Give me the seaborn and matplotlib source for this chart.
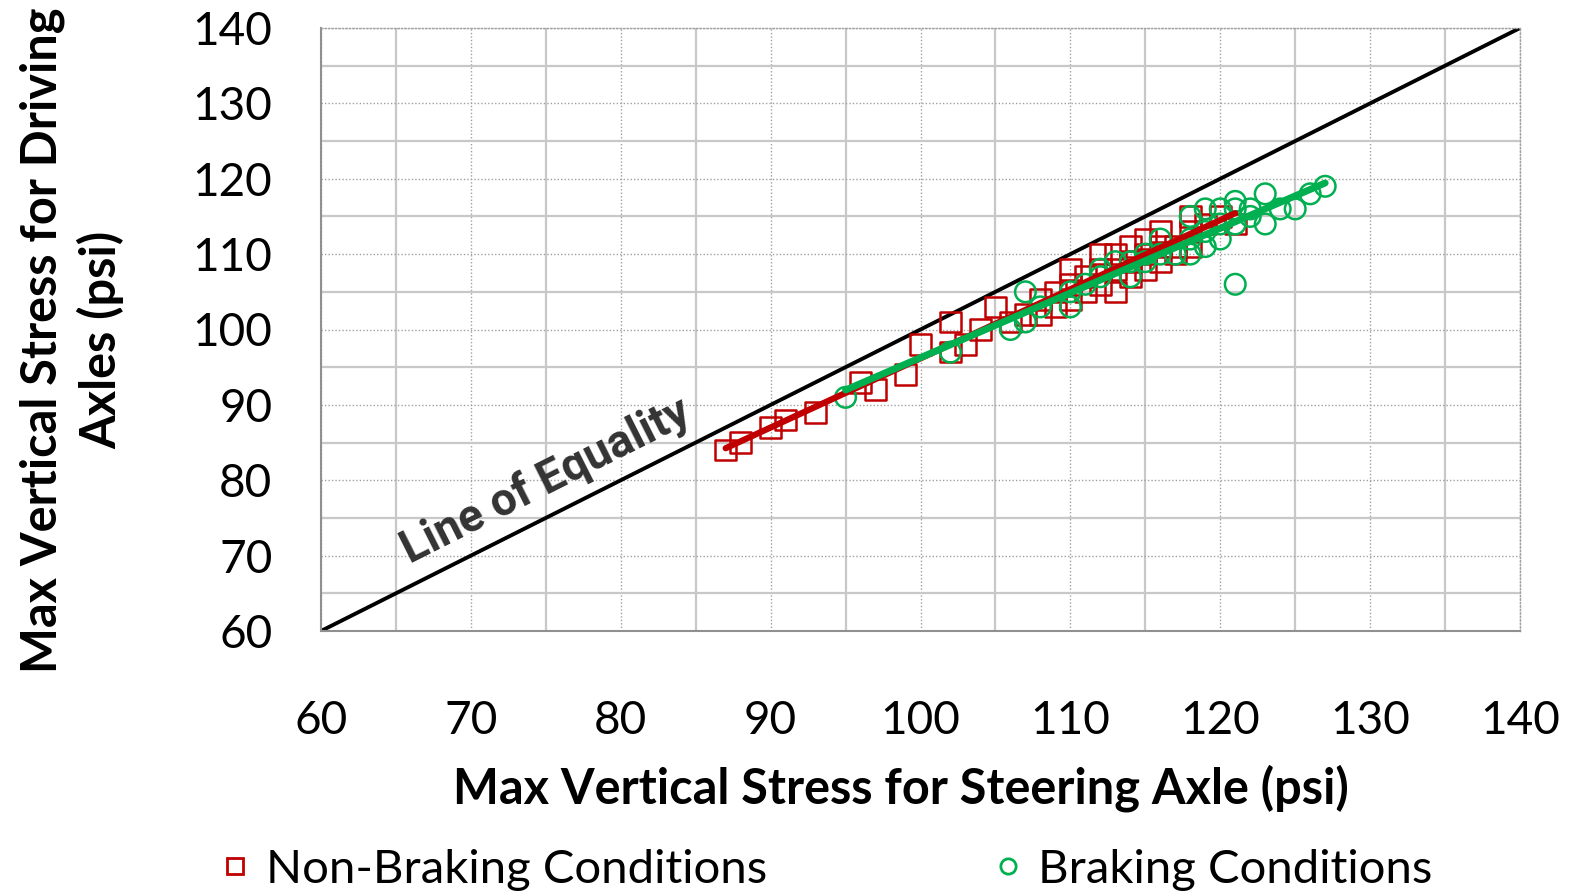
import matplotlib
matplotlib.use("Agg")
import matplotlib.pyplot as plt
import seaborn as sns
import pandas as pd
import numpy as np
from matplotlib.ticker import MultipleLocator
from matplotlib.lines import Line2D

# Data (psi)
nb_x = [87, 88, 90, 91, 93, 96, 97, 99, 100, 102, 102, 103, 104, 105, 106, 107, 108, 108, 109, 109,
        110, 110, 110, 111, 111, 112, 112, 112, 113, 113, 113, 114, 114, 114, 115, 115, 115, 116, 116, 116,
        117, 117, 118, 118, 118, 119, 120, 121]
nb_y = [84, 85, 87, 88, 89, 93, 92, 94, 98, 101, 97, 98, 100, 103, 101, 102, 104, 102, 105, 103,
        106, 108, 104, 107, 105, 110, 108, 106, 110, 108, 105, 111, 109, 107, 112, 110, 108, 113, 111, 109,
        111, 110, 115, 113, 111, 114, 115, 114]
br_x = [95, 102, 106, 107, 107, 108, 110, 110, 111, 112, 112, 113, 114, 114, 115, 115, 116, 116, 117, 118,
        118, 118, 119, 119, 119, 120, 120, 120, 121, 121, 121, 121, 122, 122, 123, 123, 124, 125, 126, 127]
br_y = [91, 97, 100, 105, 101, 103, 103, 105, 106, 108, 107, 109, 107, 109, 110, 109, 110, 112, 110, 110,
        112, 115, 111, 113, 116, 112, 114, 116, 114, 116, 117, 106, 115, 116, 118, 114, 116, 116, 118, 119]

labels = ["Non-Braking Conditions", "Braking Conditions"]
axis_ticks = [60, 70, 80, 90, 100, 110, 120, 130, 140]

red = "#C00000"
green = "#00B050"

df = pd.DataFrame({
    "x": nb_x + br_x,
    "y": nb_y + br_y,
    "cond": [labels[0]] * len(nb_x) + [labels[1]] * len(br_x),
})

sns.set_style("white")
plt.rcParams["font.family"] = ["Lato", "DejaVu Sans"]
plt.rcParams["text.color"] = "black"
plt.rcParams["axes.labelcolor"] = "black"

fig = plt.figure(figsize=(15.77, 8.94), dpi=100)
ax = fig.add_axes([321 / 1577, (894 - 631) / 894, (1520 - 321) / 1577, (631 - 28) / 894])

# Grid: minor (5s) solid, major (10s) dotted
ax.set_xlim(60, 140)
ax.set_ylim(60, 140)
ax.xaxis.set_major_locator(MultipleLocator(10))
ax.yaxis.set_major_locator(MultipleLocator(10))
ax.xaxis.set_minor_locator(MultipleLocator(5))
ax.yaxis.set_minor_locator(MultipleLocator(5))
ax.grid(which="major", color="#A0A0A0", linestyle=(0, (1, 1.5)), linewidth=1.0)
ax.grid(which="minor", color="#C8C8C8", linestyle="-", linewidth=1.6)
ax.set_axisbelow(True)

# Line of equality
ax.plot([60, 140], [60, 140], color="black", linewidth=2.8, zorder=2)
ax.text(75.0, 79.9, "Line of Equality", rotation=26.7, rotation_mode="anchor",
        ha="center", va="center", fontsize=33, fontweight="bold", color="#333333",
        family=["Liberation Sans Narrow", "Roboto", "DejaVu Sans"])

sns.scatterplot(data=df, x="x", y="y", hue="cond", style="cond",
                palette={labels[0]: red, labels[1]: green},
                markers={labels[0]: "s", labels[1]: "o"},
                s=220, linewidth=1.8, legend=False, ax=ax, zorder=3)
# make markers hollow
for coll in ax.collections:
    fc = coll.get_facecolors()
    coll.set_edgecolors(fc)
    coll.set_facecolors("none")

sns.regplot(x=np.array(nb_x), y=np.array(nb_y), scatter=False, ci=None, ax=ax,
            line_kws={"color": red, "linewidth": 4.5, "solid_capstyle": "round", "zorder": 4})
sns.regplot(x=np.array(br_x), y=np.array(br_y), scatter=False, ci=None, ax=ax,
            line_kws={"color": green, "linewidth": 5.0, "solid_capstyle": "round", "zorder": 5})

ax.set_xlim(60, 140)
ax.set_ylim(60, 140)
ax.set_xticks(axis_ticks)
ax.set_yticks(axis_ticks)
ax.set_xticklabels([str(t) for t in axis_ticks])
ax.set_yticklabels([str(t) for t in axis_ticks])
ax.tick_params(axis="both", which="major", labelsize=33, length=11, width=1.5,
               color="#909090", direction="out", labelcolor="black")
ax.tick_params(axis="x", which="major", pad=39)
ax.tick_params(axis="y", which="major", pad=24)
ax.tick_params(axis="both", which="minor", length=0)

for side in ["top", "right"]:
    ax.spines[side].set_color("#A0A0A0")
    ax.spines[side].set_linestyle((0, (1, 1.5)))
    ax.spines[side].set_linewidth(1.0)
for side in ["left", "bottom"]:
    ax.spines[side].set_color("#909090")
    ax.spines[side].set_linewidth(1.5)

ax.set_xlabel("Max Vertical Stress for Steering Axle (psi)", fontsize=35, fontweight="bold")
ax.xaxis.set_label_coords((901 - 321) / 1199, (631 - 764) / 603)
ax.set_ylabel("Max Vertical Stress for Driving\nAxles (psi)", fontsize=35, fontweight="bold",
              linespacing=1.3)
ax.yaxis.set_label_coords((124 - 321) / 1199, (631 - 340) / 603)

handles = [
    Line2D([], [], marker="s", linestyle="none", markersize=11, markerfacecolor="none",
           markeredgecolor=red, markeredgewidth=2),
    Line2D([], [], marker="o", linestyle="none", markersize=11, markerfacecolor="none",
           markeredgecolor=green, markeredgewidth=2),
]
fig.legend(handles, labels, loc="center", bbox_to_anchor=(822 / 1577, 1 - 870 / 894),
           ncol=2, frameon=False, fontsize=34, columnspacing=4.6, handletextpad=0.15,
           handlelength=1.0)

fig.savefig("out.png", dpi=100)
